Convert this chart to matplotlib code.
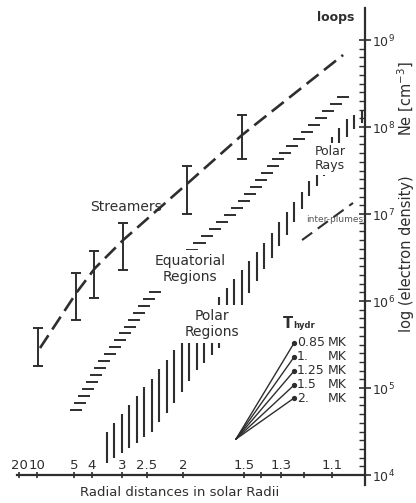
import numpy as np
import matplotlib
matplotlib.use("Agg")
import matplotlib.pyplot as plt
from matplotlib.ticker import FixedLocator, NullLocator, NullFormatter

plt.rcParams['font.family'] = ['DejaVu Sans']
plt.rcParams['lines.scale_dashes'] = False

# ---------------- data (r in solar radii, Ne in cm^-3) ----------------
# Streamers: measured ranges (error bars)
streamer_r = [9.84, 4.85, 3.91, 2.98, 1.957, 1.51]
streamer_lo = [1.79e5, 6.05e5, 1.08e6, 2.27e6, 1.00e7, 4.29e7]
streamer_hi = [4.90e5, 2.10e6, 3.76e6, 7.89e6, 3.56e7, 1.37e8]
# Streamer / loops model curve (dashed)
streamer_line_r = [9.33, 4.79, 3.87, 2.98, 1.947, 1.51, 1.064]
streamer_line_ne = [2.88e5, 1.27e6, 2.39e6, 5.02e6, 2.27e7, 8.09e7, 6.73e8]
# Equatorial regions: band centre line
equatorial_r = [4.853, 3.640, 3.033, 2.493, 1.896, 1.504, 1.295, 1.052]
equatorial_ne = [5.58e4, 1.79e5, 3.66e5, 1.00e6, 3.96e6, 1.34e7, 4.76e7, 2.46e8]
# Polar regions / polar rays: lower and upper envelope
polar_r = [3.434, 2.822, 2.411, 2.104, 1.857, 1.662, 1.504, 1.379, 1.273,
           1.182, 1.096, 1.049, 1.0055]
polar_lo = [1.37e4, 2.04e4, 3.12e4, 6.55e4, 1.61e5, 2.96e5, 9.48e5, 2.39e6,
            5.74e6, 1.57e7, 3.66e7, 8.09e7, 1.14e8]
polar_hi = [3.12e4, 6.55e4, 1.27e5, 2.66e5, 5.45e5, 1.14e6, 2.33e6, 4.76e6,
            1.05e7, 2.33e7, 8.09e7, 1.27e8, 1.57e8]
# Inter-plumes (dashed)
interplume_r = [1.209, 1.034]
interplume_ne = [5.02e6, 1.34e7]
# Hydrostatic temperature fan
fan_r0, fan_ne0 = 1.549, 2.59e4
fan_r1 = 1.242
fan_ne1 = [3.29e5, 2.27e5, 1.57e5, 1.08e5, 7.67e4]
fan_labels = ['0.85', '1.', '1.25', '1.5', '2.']
# Axes ticks
xtick_r = [20, 10, 5, 4, 3, 2.5, 2, 1.5, 1.4, 1.3, 1.2, 1.1]
xtick_labels = ['20', '10', '5', '4', '3', '2.5', '2', '1.5', '', '1.3', '', '1.1']
ytick_vals = [1e4, 1e5, 1e6, 1e7, 1e8, 1e9]
ytick_labels = ['$10^{4}$', '$10^{5}$', '$10^{6}$', '$10^{7}$', '$10^{8}$', '$10^{9}$']

C = '#2e2e2e'
W, H = 416, 503


def fx(x):
    return x / W


def fy(y):
    return 1 - y / H


def inv(r):
    with np.errstate(divide='ignore'):
        return 1.0 / np.asarray(r, dtype=float)


fig = plt.figure(figsize=(W / 100, H / 100), dpi=100)
ax = fig.add_axes([3 / W, 0, (W - 3) / W, 1])
ax.set_xscale('function', functions=(inv, inv))
ax.set_yscale('log')
ax.set_xlim(0.87711, 182.0)
ax.set_ylim(10 ** 3.6782, 10 ** 9.4598)
ax.patch.set_alpha(0)

# spines
for s in ['top', 'left']:
    ax.spines[s].set_visible(False)
ax.spines['right'].set_position(('data', 1.0))
ax.spines['bottom'].set_position(('data', 1e4))
ax.spines['right'].set_bounds(10 ** 3.885, 10 ** 9.368)
ax.spines['bottom'].set_bounds(22.75, 1.0)
for s in ['right', 'bottom']:
    ax.spines[s].set_linewidth(1.6)
    ax.spines[s].set_color(C)

# x ticks (labels above the axis line)
ax.xaxis.set_ticks_position('bottom')
ax.set_xticks(xtick_r)
ax.set_xticklabels(xtick_labels)
ax.xaxis.set_minor_locator(NullLocator())
ax.tick_params(axis='x', direction='inout', length=5, width=1.2, pad=-14,
               labelsize=9.5, colors=C)

# y ticks on the right
ax.yaxis.set_ticks_position('right')
ax.yaxis.set_major_locator(FixedLocator(ytick_vals))
ax.set_yticklabels(ytick_labels)
minor = [10 ** v for v in np.round(np.arange(4.0, 9.0, 0.1), 2) if abs(v - round(v)) > 1e-6]
ax.yaxis.set_minor_locator(FixedLocator(minor))
ax.yaxis.set_minor_formatter(NullFormatter())
ax.tick_params(axis='y', which='major', direction='inout', length=9, width=1.2,
               pad=0.5, labelsize=9, colors=C)
ax.tick_params(axis='y', which='minor', direction='in', length=4, width=1.0,
               colors=C)

# streamers error bars
lo = np.array(streamer_lo)
hi = np.array(streamer_hi)
ax.errorbar(streamer_r, lo, yerr=[np.zeros_like(lo), hi - lo], fmt='none',
            ecolor=C, elinewidth=1.4, capsize=3.6, capthick=1.4)
# streamer dashed curve
ax.plot(streamer_line_r, streamer_line_ne, color=C, lw=1.9,
        ls=(0, (11, 5)), dash_capstyle='butt')

# equatorial band: horizontal hatch dashes
eu = inv(equatorial_r)
el = np.log10(equatorial_ne)
levels = np.arange(el[0], el[-1] + 1e-9, 0.08)
uc = np.interp(levels, el, eu)
half = 0.0165
ax.hlines(10 ** levels, inv(uc - half), inv(uc + half), colors=C, lw=1.4)

# polar band: vertical hatch bars
pu = inv(polar_r)
ub = np.arange(pu[0], pu[-1] + 1e-9, 0.0206)
plo = np.interp(ub, pu, np.log10(polar_lo))
phi = np.interp(ub, pu, np.log10(polar_hi))
ax.vlines(inv(ub), 10 ** plo, 10 ** phi, colors=C, lw=1.5)

# inter-plumes dashed line
ax.plot(interplume_r, interplume_ne, color=C, lw=1.5, ls=(0, (9, 5)))

# temperature fan
for ne in fan_ne1:
    ax.plot([fan_r0, fan_r1], [fan_ne0, ne], color=C, lw=1.0)
ax.plot([fan_r1] * len(fan_ne1), fan_ne1, 'o', color=C, ms=2.8)

# ---------------- text ----------------
box = dict(boxstyle='square,pad=0.25', fc='white', ec='none')
fig.text(fx(126), fy(207), 'Streamers', ha='center', va='center', fontsize=10, color=C)
fig.text(fx(190), fy(269), 'Equatorial\nRegions', ha='center', va='center',
         fontsize=10, color=C, linespacing=1.2, bbox=box)
fig.text(fx(212), fy(324), 'Polar\nRegions', ha='center', va='center',
         fontsize=10, color=C, linespacing=1.2, bbox=box)
fig.text(fx(330), fy(159), 'Polar\nRays', ha='center', va='center',
         fontsize=9, color=C, linespacing=1.1,
         bbox=dict(boxstyle='square,pad=0.2', fc='white', ec='none'))
fig.text(fx(335), fy(220), 'inter-plumes', ha='center', va='center',
         fontsize=6.5, color='#555555')
fig.text(fx(336), fy(18), 'loops', ha='center', va='center', fontsize=9,
         fontweight='bold', color=C)
fig.text(fx(283), fy(328), 'T', ha='left', va='baseline', fontsize=10.5,
         fontweight='bold', color=C)
fig.text(fx(293), fy(328), 'hydr', ha='left', va='baseline', fontsize=6,
         fontweight='bold', color=C)
rows = [343, 357, 371, 385, 399]
for lab, yy in zip(fan_labels, rows):
    fig.text(fx(297), fy(yy), lab, ha='left', va='center', fontsize=9, color=C)
    fig.text(fx(328), fy(yy), 'MK', ha='left', va='center', fontsize=9, color=C)
fig.text(fx(180), fy(493), 'Radial distances in solar Radii', ha='center',
         va='center', fontsize=9.5, color=C)
fig.text(fx(406), fy(254), 'log (electron density)',
         ha='center', va='center', rotation=90, fontsize=10.5, color=C)
fig.text(fx(406), fy(99), 'Ne [cm$^{-3}$]',
         ha='center', va='center', rotation=90, fontsize=10.5, color=C)

fig.savefig('out.png', dpi=100)
